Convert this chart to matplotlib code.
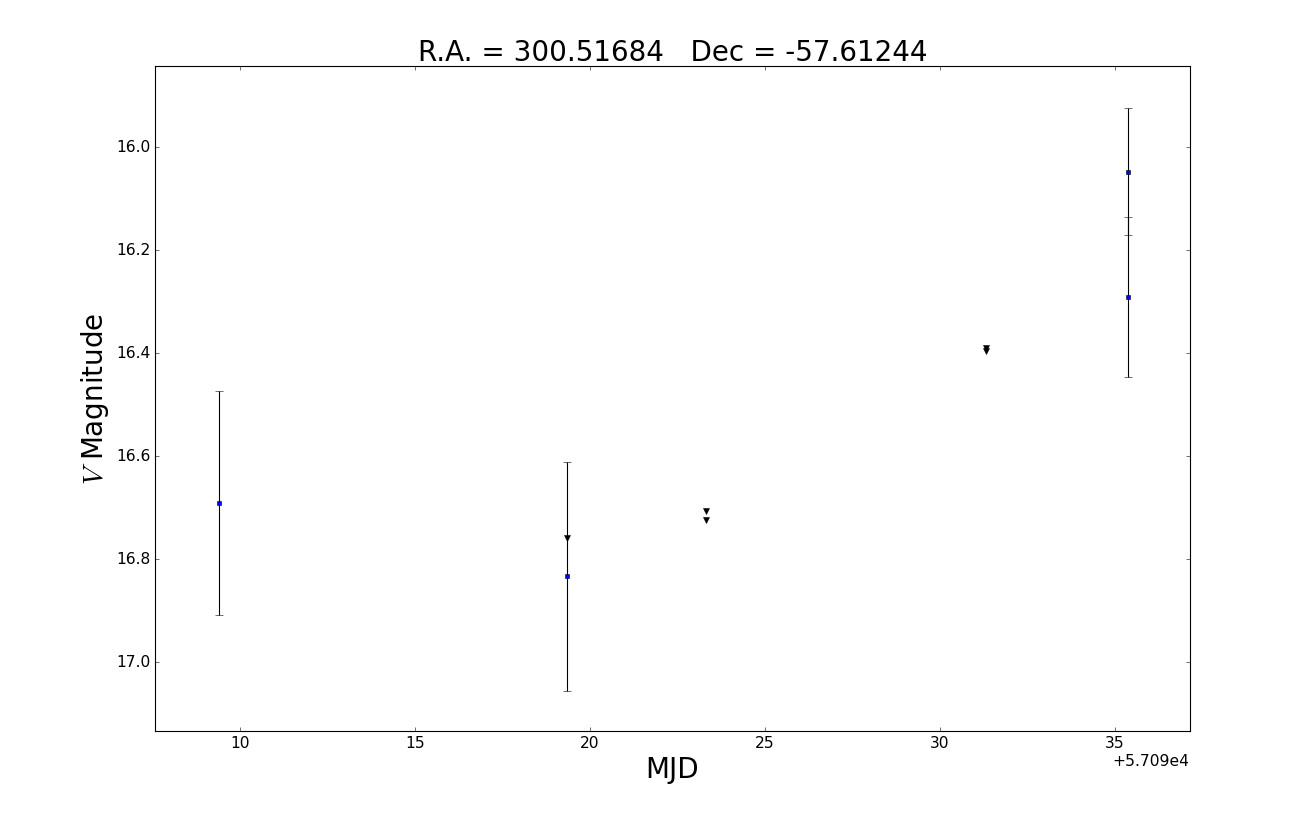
import matplotlib
matplotlib.use("Agg")
import matplotlib.pyplot as plt
from matplotlib.ticker import ScalarFormatter

plt.style.use("classic")

# detections (MJD, V mag, error)
det_mjd = [57099.40, 57109.34, 57125.37, 57125.37]
det_mag = [16.691, 16.833, 16.047, 16.291]
det_err = [0.217, 0.222, 0.124, 0.155]

# upper limits
lim_mjd = [57109.34, 57113.33, 57113.33, 57121.33, 57121.33]
lim_mag = [16.759, 16.707, 16.724, 16.390, 16.396]

fig = plt.figure(figsize=(16.1625, 10.3875), dpi=80, facecolor="white")
ax = fig.add_axes([0.12, 0.12, 0.8, 0.8])

ax.errorbar(det_mjd, det_mag, yerr=det_err, fmt="s", color="black",
            mfc="blue", mec="black", ms=4, mew=0.5, ecolor="black",
            elinewidth=1, capsize=4)
ax.plot(lim_mjd, lim_mag, "v", color="black", ms=5, mec="black")

ax.set_xlim(57097.571, 57127.143)
ax.set_ylim(17.134, 15.843)
fmt = ScalarFormatter(useOffset=57090)
ax.xaxis.set_major_formatter(fmt)
ax.tick_params(labelsize=14)
ax.xaxis.get_offset_text().set_fontsize(14)
ax.set_title("R.A. = 300.51684   Dec = -57.61244", fontsize=25)
ax.set_xlabel("MJD", fontsize=25)
ax.set_ylabel("$V$ Magnitude", fontsize=25)

fig.savefig("out.png", dpi=80, facecolor="white")
